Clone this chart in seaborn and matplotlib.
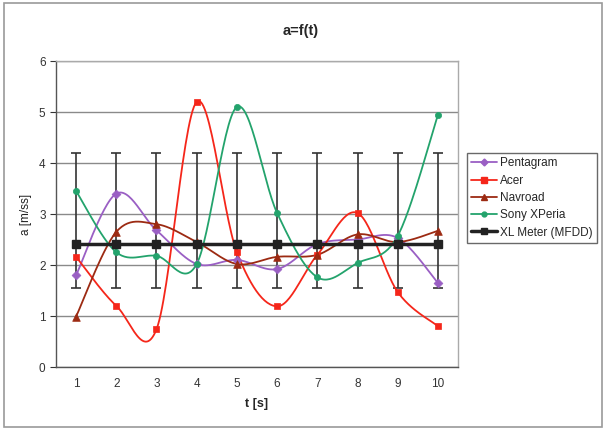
import matplotlib
matplotlib.use('Agg')
import matplotlib.pyplot as plt
from matplotlib.lines import Line2D
import numpy as np
import seaborn as sns

t = [1, 2, 3, 4, 5, 6, 7, 8, 9, 10]
pentagram = [1.80, 3.40, 2.68, 2.02, 2.10, 1.92, 2.41, 2.50, 2.53, 1.65]
acer = [2.16, 1.20, 0.74, 5.20, 2.25, 1.19, 2.20, 3.02, 1.47, 0.80]
navroad = [0.99, 2.65, 2.80, 2.45, 2.02, 2.16, 2.20, 2.60, 2.45, 2.67]
sony = [3.45, 2.25, 2.18, 2.02, 5.10, 3.02, 1.76, 2.04, 2.57, 4.94]
xl_meter = [2.42] * 10
err_low = [0.87] * 10
err_high = [1.78] * 10

series = [
    ('Pentagram', pentagram, '#9a5fc4', 'D', 4.5),
    ('Acer', acer, '#f5261a', 's', 5),
    ('Navroad', navroad, '#9c2a12', '^', 5.5),
    ('Sony XPeria', sony, '#23a36c', 'o', 4.5),
]


def smooth(xs, ys, n=30):
    # Excel-like smoothed line: cubic bezier with 1/6 tangents
    p = np.column_stack([xs, ys]).astype(float)
    out = []
    for i in range(len(p) - 1):
        p0 = p[i - 1] if i > 0 else p[i]
        p3 = p[i + 2] if i + 2 < len(p) else p[i + 1]
        c1 = p[i] + (p[i + 1] - p0) / 6
        c2 = p[i + 1] - (p3 - p[i]) / 6
        s = np.linspace(0, 1, n)[:, None]
        seg = ((1 - s) ** 3) * p[i] + 3 * ((1 - s) ** 2) * s * c1 + 3 * (1 - s) * s ** 2 * c2 + s ** 3 * p[i + 1]
        out.append(seg if i == 0 else seg[1:])
    out = np.vstack(out)
    return out[:, 0], out[:, 1]


sns.set_style('white')
plt.rcParams['font.family'] = ['Liberation Sans', 'DejaVu Sans']

fig = plt.figure(figsize=(6.06, 4.30), dpi=100)
ax = fig.add_axes([0.0924, 0.1465, 0.6634, 0.7116])

# frame around whole chart
fig.patches.append(plt.Rectangle((0.006, 0.007), 0.988, 0.986, transform=fig.transFigure,
                                 fill=False, edgecolor='#9a9a9a', lw=1.2))

ax.yaxis.grid(True, color='#8a8a8a', lw=1.0)
ax.set_axisbelow(True)

handles = []
for name, vals, col, mk, ms in series:
    sx, sy = smooth(t, vals)
    ax.plot(sx, sy, color=col, lw=1.3, zorder=3)
    sns.scatterplot(x=t, y=vals, marker=mk, color=col, s=ms ** 2, edgecolor=col, linewidth=0.5, ax=ax, zorder=4)
    handles.append(Line2D([], [], color=col, marker=mk, ms=ms - 1, lw=1.3))

ax.errorbar(t, xl_meter, yerr=[err_low, err_high], fmt='none', ecolor='#333333', elinewidth=1.2,
            capsize=3.5, capthick=1.2, zorder=2)
ax.plot(t, xl_meter, color='#222222', lw=2.5, marker='s', ms=5.5, zorder=5)
handles.append(Line2D([], [], color='#222222', marker='s', ms=4.5, lw=2.5))

ax.set_xlim(0.5, 10.5)
ax.set_ylim(0, 6)
ax.set_xticks(t)
ax.set_xticks(np.arange(0.5, 11, 1), minor=True)
ax.tick_params(axis='x', which='major', length=0, labelsize=8.5, pad=8, colors='#333333')
ax.tick_params(axis='x', which='minor', length=4, direction='out', color='#555555')
ax.set_yticks(range(0, 7))
ax.tick_params(axis='y', length=4, direction='out', labelsize=8.5, colors='#333333', left=True)

for side in ['top', 'right']:
    ax.spines[side].set_color('#aaaaaa')
    ax.spines[side].set_linewidth(1.0)
for side in ['left', 'bottom']:
    ax.spines[side].set_color('#555555')
    ax.spines[side].set_linewidth(1.0)

ax.set_xlabel('t [s]', fontsize=9, fontweight='bold', labelpad=6)
ax.set_ylabel('a [m/ss]', fontsize=8.5, labelpad=5, color='#222222')
fig.text(0.497, 0.928, 'a=f(t)', ha='center', va='center', fontsize=10.5, fontweight='bold')

labels = ['Pentagram', 'Acer', 'Navroad', 'Sony XPeria', 'XL Meter (MFDD)']
leg = fig.legend(handles, labels, loc='upper left', bbox_to_anchor=(0.770, 0.645), frameon=True,
                 fancybox=False, fontsize=8.5, handlelength=2.2, handletextpad=0.2,
                 borderpad=0.4, labelspacing=0.45, borderaxespad=0)
leg.get_frame().set_edgecolor('#444444')
leg.get_frame().set_linewidth(1.0)

fig.savefig('out.png', dpi=100)
